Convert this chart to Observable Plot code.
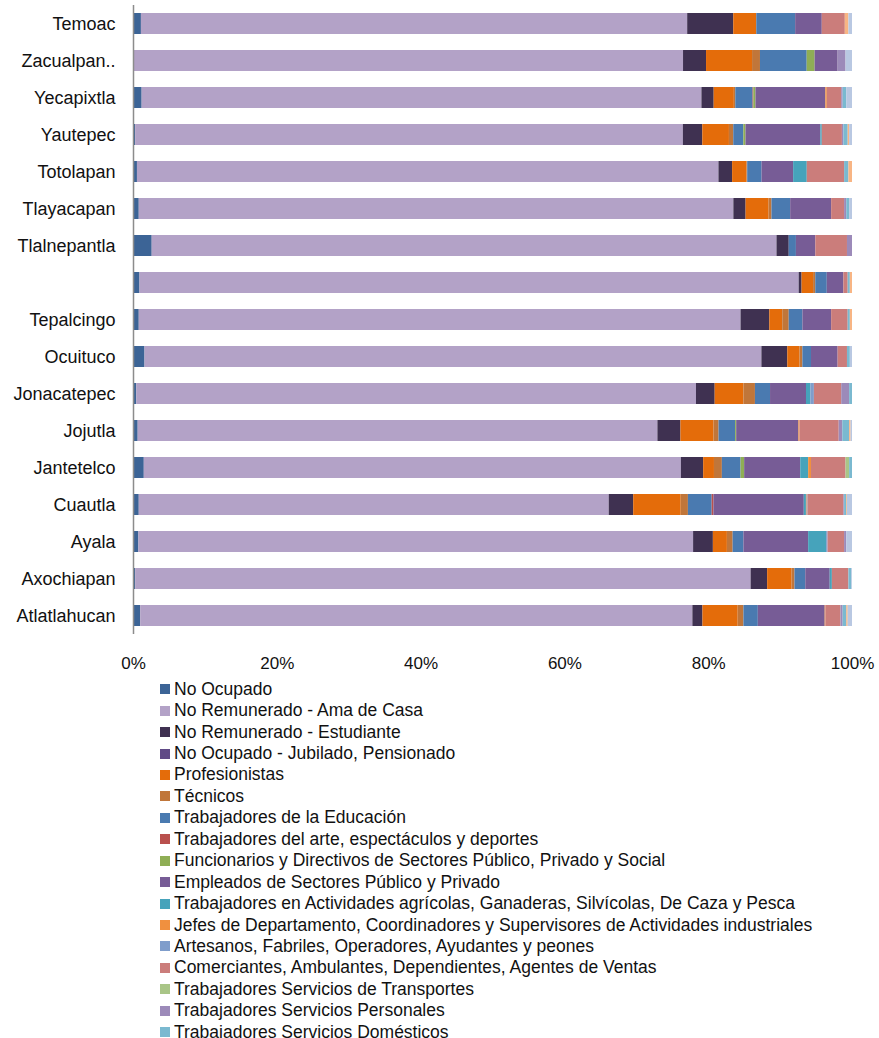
<!DOCTYPE html>
<html>
<head>
<meta charset="utf-8">
<script src="https://cdn.jsdelivr.net/npm/d3@7"></script>
<script src="https://cdn.jsdelivr.net/npm/@observablehq/plot@0.6"></script>
<style>
  html, body { margin: 0; padding: 0; background: #fff; }
  body { width: 879px; height: 1038px; overflow: hidden; font-family: "Liberation Sans", Arial, sans-serif; }
  #legend { position: absolute; left: 160px; top: 678.5px; }
  .item { display: flex; align-items: center; height: 21.45px; font-size: 17.5px; color: #111; white-space: nowrap; }
  .sw { width: 10px; height: 10px; margin-right: 4px; flex: none; }
</style>
</head>
<body>
<div id="chart"></div>
<div id="legend"></div>
<script>
const municipios = ["Temoac", "Zacualpan..", "Yecapixtla", "Yautepec", "Totolapan", "Tlayacapan", "Tlalnepantla", " ", "Tepalcingo", "Ocuituco", "Jonacatepec", "Jojutla", "Jantetelco", "Cuautla", "Ayala", "Axochiapan", "Atlatlahucan"];

const seriesNames = [
  "No Ocupado",
  "No Remunerado - Ama de Casa",
  "No Remunerado - Estudiante",
  "No Ocupado - Jubilado, Pensionado",
  "Profesionistas",
  "Técnicos",
  "Trabajadores de la Educación",
  "Trabajadores del arte, espectáculos y deportes",
  "Funcionarios y Directivos de Sectores Público, Privado y Social",
  "Empleados de Sectores Público y Privado",
  "Trabajadores en Actividades agrícolas, Ganaderas, Silvícolas, De Caza y Pesca",
  "Jefes de Departamento, Coordinadores y Supervisores de Actividades industriales",
  "Artesanos, Fabriles, Operadores, Ayudantes y peones",
  "Comerciantes, Ambulantes, Dependientes, Agentes de Ventas",
  "Trabajadores Servicios de Transportes",
  "Trabajadores Servicios Personales",
  "Trabajadores Servicios Domésticos",
  "Trabajadores Servicios de Protección y Vigilancia",
  "No Especificado"
];

const seriesColors = ["#3c6496", "#b3a2c7", "#3f3151", "#604a86", "#e46c0a", "#c0763a", "#4a7ab0", "#b9504d", "#8fae55", "#775c96", "#46a3bb", "#f0903f", "#7f9dcb", "#cb7d7b", "#a9c587", "#9c8ab9", "#7ab9d0", "#f8b584", "#b9c8e2"];

const xTicks = [0, 0.2, 0.4, 0.6, 0.8, 1];

// values in % per municipio (same order as municipios)
const noOcupado     = [1.1, 0, 1.2, 0.3, 0.55, 0.8, 2.6, 0.9, 0.8, 1.6, 0.45, 0.65, 1.5, 0.8, 0.75, 0.3, 1.0];
const amaDeCasa     = [75.9, 76.5, 77.7, 76.1, 81.0, 82.7, 86.9, 91.5, 83.7, 85.8, 77.85, 72.25, 74.7, 65.3, 77.15, 85.6, 76.8];
const estudiante    = [6.4, 3.2, 1.7, 2.7, 1.9, 1.7, 1.7, 0.4, 4.0, 3.6, 2.6, 3.2, 3.1, 3.4, 2.75, 2.3, 1.4];
const jubilado      = [0, 0, 0, 0, 0, 0, 0, 0, 0, 0, 0, 0, 0, 0, 0, 0, 0];
const profesionistas= [3.2, 6.4, 2.8, 3.7, 2.0, 3.2, 0, 1.6, 1.8, 1.7, 4.0, 4.6, 1.5, 6.6, 1.95, 3.4, 4.9];
const tecnicos      = [0, 1.1, 0.2, 0.6, 0.1, 0.4, 0, 0.3, 0.9, 0.4, 1.6, 0.7, 1.1, 1.0, 0.8, 0.4, 0.8];
const educacion     = [5.4, 6.5, 2.4, 1.4, 2.0, 2.6, 1.0, 1.6, 1.9, 1.2, 2.1, 2.3, 2.6, 3.3, 1.5, 1.5, 2.0];
const arte          = [0, 0, 0.1, 0, 0, 0, 0, 0, 0, 0, 0, 0, 0, 0.25, 0, 0, 0];
const funcionarios  = [0, 1.1, 0.3, 0.3, 0, 0, 0, 0, 0, 0, 0, 0.15, 0.5, 0, 0, 0, 0];
const empleados     = [3.7, 3.2, 9.7, 10.4, 4.4, 5.7, 2.7, 2.3, 4.0, 3.7, 5.0, 8.65, 7.8, 12.55, 9.0, 3.4, 9.3];
const agricolas     = [0, 0, 0, 0.2, 1.9, 0, 0, 0, 0, 0, 0.6, 0, 1.1, 0.3, 2.5, 0.3, 0];
const jefes         = [0, 0, 0.2, 0, 0, 0, 0, 0, 0, 0, 0, 0.15, 0.4, 0.1, 0, 0, 0.1];
const artesanos     = [0, 0, 0, 0, 0, 0, 0, 0, 0, 0, 0.5, 0, 0, 0.1, 0.2, 0, 0];
const comerciantes  = [3.2, 0, 2.0, 2.8, 5.2, 1.8, 4.4, 0.6, 2.3, 1.3, 3.8, 5.45, 4.8, 5.0, 2.3, 2.3, 2.1];
const transportes   = [0, 0, 0, 0, 0, 0, 0, 0, 0, 0, 0, 0, 0.5, 0, 0, 0, 0];
const personales    = [0, 1.1, 0.2, 0.2, 0, 0.3, 0.7, 0, 0, 0, 1.1, 0.5, 0, 0.1, 0.3, 0, 0.3];
const domesticos    = [0, 0, 0.5, 0.6, 0.6, 0.4, 0, 0.3, 0.3, 0.4, 0.4, 0.95, 0.4, 0.3, 0, 0.4, 0.5];
const proteccion    = [0.5, 0, 0, 0.2, 0.5, 0, 0, 0.3, 0.3, 0, 0, 0.2, 0, 0.1, 0, 0, 0.2];
const noEspecificado= [0.5, 0.9, 0.8, 0.4, 0, 0.4, 0, 0, 0, 0.3, 0, 0.2, 0, 0.7, 0.8, 0.1, 0.6];

const seriesValues = [noOcupado, amaDeCasa, estudiante, jubilado, profesionistas, tecnicos, educacion, arte, funcionarios, empleados, agricolas, jefes, artesanos, comerciantes, transportes, personales, domesticos, proteccion, noEspecificado];

const data = [];
municipios.forEach((m, i) => {
  seriesNames.forEach((s, j) => {
    data.push({municipio: m, serie: s, order: j, value: seriesValues[j][i]});
  });
});

const pct = d3.format(".0%");

const chart = Plot.plot({
  width: 879,
  height: 678,
  marginLeft: 133,
  marginRight: 27,
  marginTop: 5,
  marginBottom: 44,
  style: {fontFamily: "'Liberation Sans', Arial, sans-serif", color: "#111", background: "#fff"},
  x: {domain: [0, 1], label: null},
  y: {domain: municipios, paddingInner: 0.43, paddingOuter: 0.215, label: null},
  color: {domain: seriesNames, range: seriesColors},
  marks: [
    Plot.barX(data, Plot.stackX({
      x: "value", y: "municipio", fill: "serie", order: "order", offset: "normalize"
    })),
    Plot.axisX({ticks: xTicks, tickFormat: pct, tickSize: 0, tickPadding: 22, fontSize: 17, label: null}),
    Plot.axisY({tickSize: 0, tickPadding: 18, fontSize: 18, label: null}),
    Plot.ruleX([0], {stroke: "#8c8c8c", strokeWidth: 1.5})
  ]
});
document.getElementById("chart").appendChild(chart);

const legend = document.getElementById("legend");
seriesNames.forEach((s, j) => {
  const it = document.createElement("div");
  it.className = "item";
  const sw = document.createElement("span");
  sw.className = "sw";
  sw.style.background = seriesColors[j];
  const tx = document.createElement("span");
  tx.textContent = s;
  it.appendChild(sw);
  it.appendChild(tx);
  legend.appendChild(it);
});
</script>
</body>
</html>
